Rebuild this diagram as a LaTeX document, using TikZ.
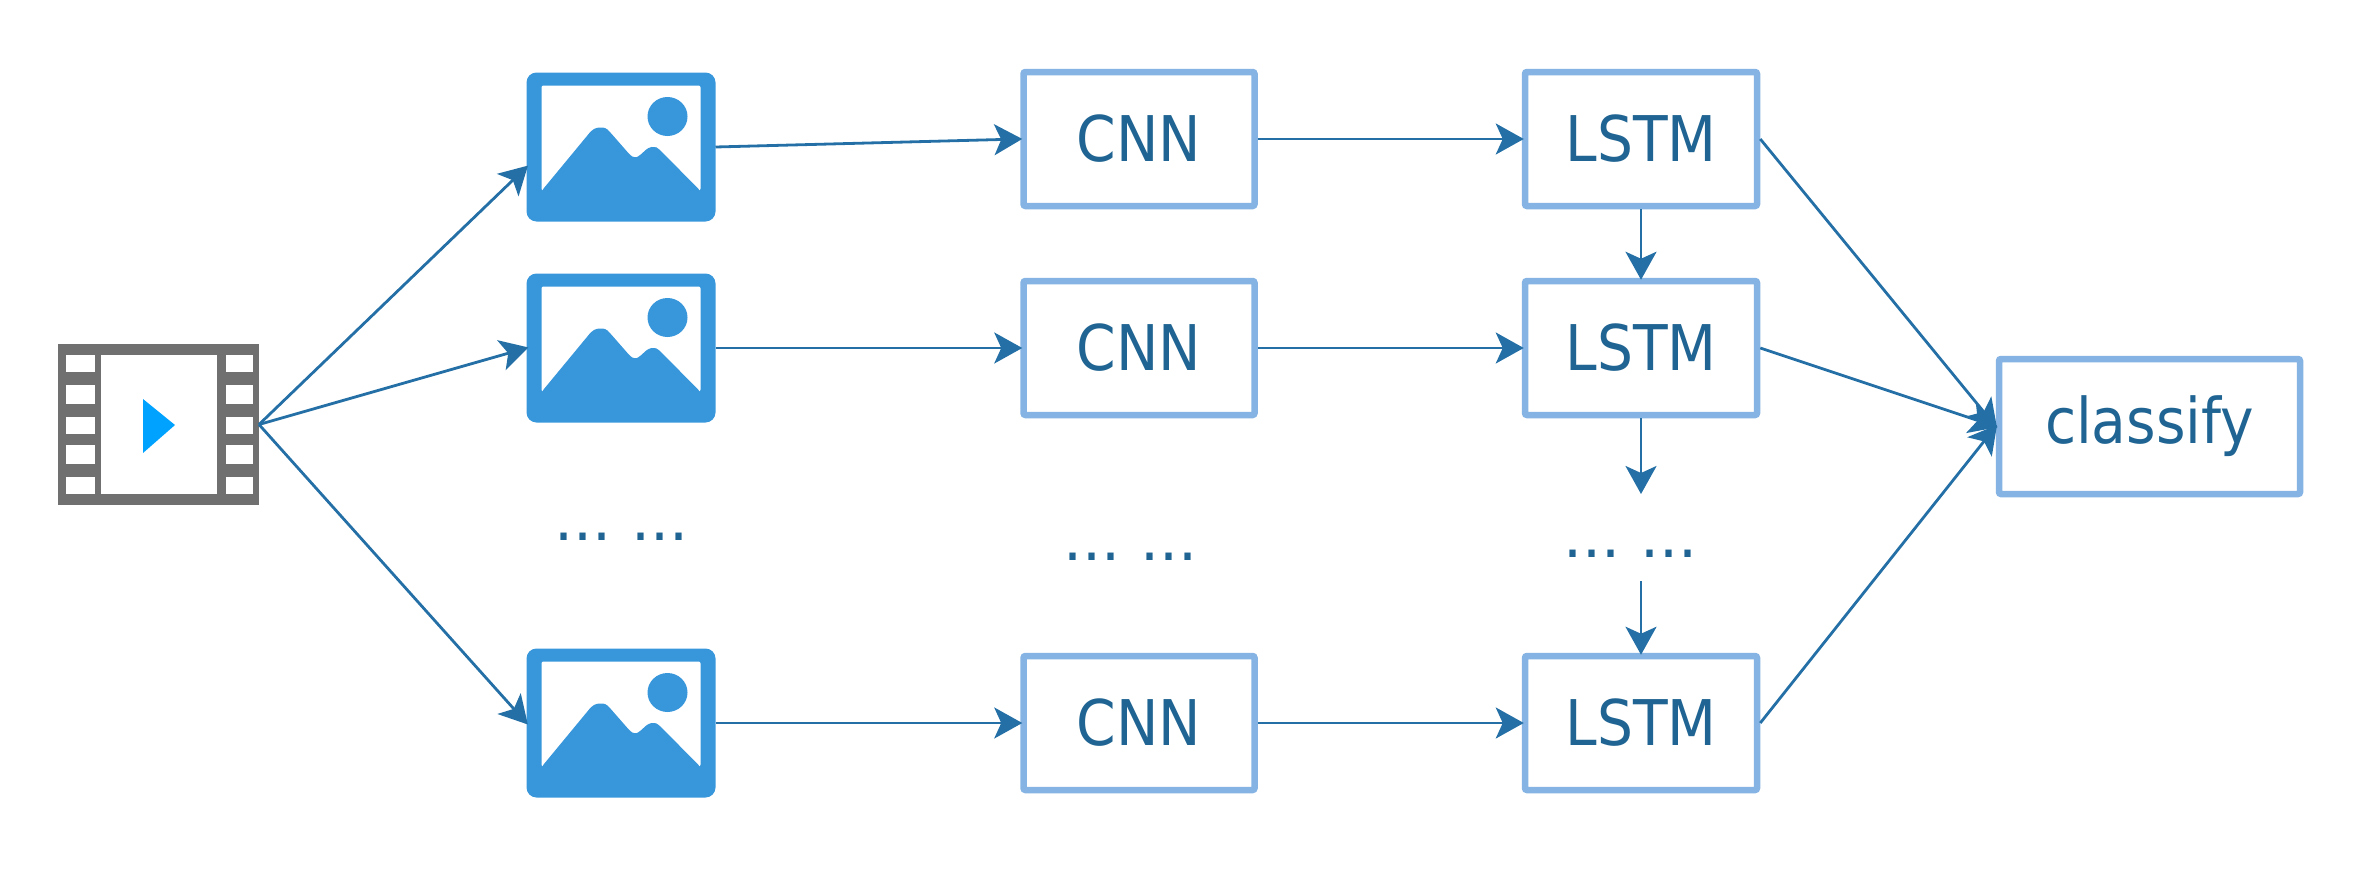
\documentclass[tikz,border=0pt]{standalone}
\usepackage{fontspec}
\setmainfont{DejaVu Sans}
\newfontfamily\labelfont[FakeStretch=0.9]{DejaVu Sans}
\newcommand{\spaceddots}{.\kern0pt.\kern0pt.\ .\kern0pt.\kern0pt.}
\usetikzlibrary{arrows.meta}
\definecolor{boxcol}{HTML}{85B3E3}
\definecolor{imgcol}{HTML}{3897DB}
\definecolor{filmcol}{HTML}{707070}
\definecolor{playcol}{HTML}{00A2FF}
\definecolor{arrcol}{HTML}{2470A6}
\definecolor{txtcol}{HTML}{1F6492}
\tikzset{
  netbox/.style={draw=boxcol,line width=6.5pt,fill=white,rounded corners=2pt,inner sep=0pt,text=txtcol,
    font=\labelfont\fontsize{63}{70}\selectfont},
  imgbox/.style={fill=imgcol,rounded corners=10pt,minimum width=189pt,minimum height=149pt,inner sep=0pt,outer sep=0pt},
  filmbox/.style={fill=filmcol,minimum width=201pt,minimum height=161pt,inner sep=0pt,outer sep=0pt},
  dotstext/.style={anchor=base,inner sep=0pt,text=txtcol,font=\fontsize{60}{70}\selectfont},
  flow/.style={draw=arrcol,line width=2.8pt,-{Stealth[length=28pt,width=31pt,inset=7pt]},shorten >=-2pt},
}
\newcommand{\imgdetail}[1]{%
  \begin{scope}[shift={(#1.north west)}]
    \fill[white,rounded corners=2pt] (15,13) rectangle (174,118);
    \fill[imgcol,rounded corners=3pt] (15,118.5) -- (65,58) -- (70,55) -- (79,55) -- (83,59) -- (104,83) -- (108,85.5) -- (112,84) -- (122,75) -- (128,74) -- (132,76) -- (174,118.5) -- (174,125) -- (15,125) -- cycle;
    \fill[imgcol] (141,44) ellipse [x radius=20,y radius=19.5];
  \end{scope}}
\begin{document}
\begin{tikzpicture}[x=1pt,y=-1pt]
\useasboundingbox (0,0) rectangle (2360,886);
% film
\node[filmbox] (film) at (158.5,424.5) {};
\begin{scope}[shift={(film.north west)}]
  \fill[white] (43,11) rectangle (158.5,150);
  \foreach \a/\b in {11/28,41/60,73/90,101/120,133/150}{
    \fill[white] (7.5,\a) rectangle (36.5,\b);
    \fill[white] (167.5,\a) rectangle (194.5,\b);
  }
  \fill[playcol] (85,55) -- (117,81) -- (85,109) -- cycle;
\end{scope}
% images
\node[imgbox] (img1) at (621,147) {};
\node[imgbox] (img2) at (621,348) {};
\node[imgbox] (img3) at (621,723) {};
\imgdetail{img1}
\imgdetail{img2}
\imgdetail{img3}
% boxes
\foreach \n/\y in {1/139,2/348,3/723}{
  \node[netbox,minimum width=231pt,minimum height=134pt] (cnn\n) at (1139,\y) {CNN};
  \node[netbox,minimum width=232pt,minimum height=134pt] (lstm\n) at (1641,\y) {LSTM};
}
\node[netbox,minimum width=301pt,minimum height=135pt] (cls) at (2149.5,426.5) {classify};
% dots
\node[dotstext] (d1) at (621.5,540) {\spaceddots};
\node[dotstext] (d2) at (1130.5,560) {\spaceddots};
\node[dotstext] (d3) at (1630.5,557) {\spaceddots};
\coordinate (c1) at (1641,492);
\coordinate (c2) at (1641,581);
% connectors
\draw[flow] (film.east) -- (img1.west |- 0,167);
\draw[flow] (film.east) -- (img2.west);
\draw[flow] (film.east) -- (img3.west);
\foreach \n in {1,2,3}{
  \draw[flow] (img\n.east) -- (cnn\n.west);
  \draw[flow] (cnn\n.east) -- (lstm\n.west);
  \draw[flow] (lstm\n.east) -- (cls.west);
}
\draw[flow] (lstm1.south) -- (lstm2.north);
\draw[flow] (lstm2.south) -- (c1);
\draw[flow] (c2) -- (lstm3.north);
\end{tikzpicture}
\end{document}
